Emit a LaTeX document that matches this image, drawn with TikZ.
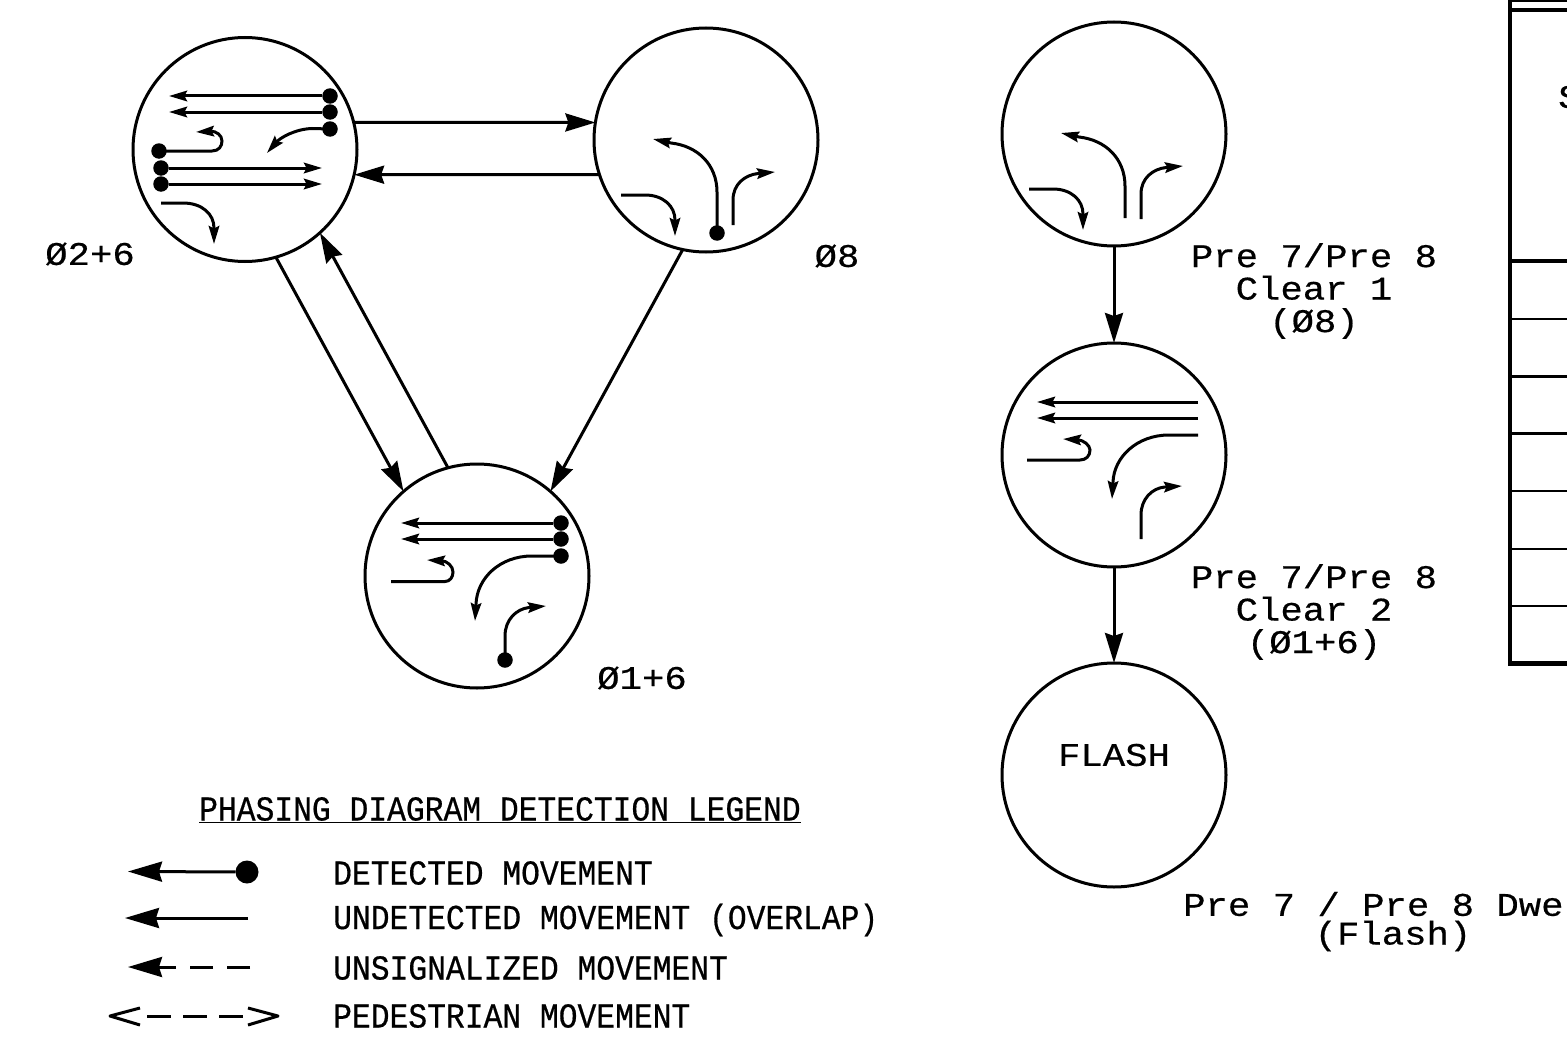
\documentclass[tikz,border=0pt]{standalone}
\usepackage{fontspec}
\usetikzlibrary{arrows.meta}
\newfontfamily\cadwide[FakeStretch=1.13,FakeBold=0.5]{Liberation Mono}
\newfontfamily\cadnarrow[FakeStretch=0.895,FakeBold=0.5]{Liberation Mono}
\tikzset{
  ln/.style={line width=3pt,line cap=butt},
  phase/.style={circle,draw,line width=3pt,minimum size=224pt,inner sep=0pt,outer sep=0pt},
  dot/.style={circle,fill=black,minimum size=15.5pt,inner sep=0pt,outer sep=0pt},
  bigdot/.style={circle,fill=black,minimum size=23pt,inner sep=0pt,outer sep=0pt},
  sa/.style={ln,-{Stealth[length=18pt,width=10.5pt,inset=2.5pt]}},
  ba/.style={ln,-{Stealth[length=30pt,width=18pt,inset=3pt]}},
  la/.style={ln,-{Stealth[length=34pt,width=20pt,inset=3pt]}},
  lab/.style={font=\cadwide\fontsize{33}{32.5}\selectfont,align=center,inner sep=0pt},
  leg/.style={font=\cadnarrow\fontsize{35}{35}\selectfont,anchor=west,inner sep=0pt},
  tbl/.style={line width=2.8pt},
  tblb/.style={line width=4.5pt}
}
\begin{document}
\begin{tikzpicture}[x=1pt,y=-1pt]
\useasboundingbox (0,0) rectangle (1567,1057);
% phase circles
\node[phase] (A) at (245,149.5) {};
\node[phase] (B) at (706,140) {};
\node[phase] (C) at (477,576) {};
\node[phase] (D) at (1114,134) {};
\node[phase] (E) at (1114,455) {};
\node[phase] (F) at (1114,775) {};
\node[lab] (flash) at (1114,755) {FLASH};
% connectors
\draw[ba] (A.14) -- (B.171.3);
\draw[ba] (B.198.7) -- (A.-13.7);
\draw[ba] (A.-74.4) -- (C.131.8);
\draw[ba] (C.105.3) -- (A.-48.4);
\draw[ba] (B.-102.8) -- (C.49.3);
\draw[ba] (D.south) -- (E.north);
\draw[ba] (E.south) -- (F.north);
% circle A movements
\node[dot] (a1) at (330,96) {};
\node[dot] (a2) at (330,112) {};
\node[dot] (a3) at (330,129) {};
\node[dot] (a4) at (159,151) {};
\node[dot] (a5) at (161,168) {};
\node[dot] (a6) at (161,184) {};
\coordinate (a1t) at (169,96);
\coordinate (a2t) at (169,112);
\coordinate (a3t) at (267,153);
\coordinate (a4t) at (196,132);
\coordinate (a5t) at (322,168);
\coordinate (a6t) at (322,184);
\coordinate (a7s) at (161,203);
\coordinate (a7t) at (214,244);
\draw[sa] (a1) -- (a1t);
\draw[sa] (a2) -- (a2t);
\draw[sa] (a3.center) -- (312,128.5) .. controls (295,129) and (280,138) .. (a3t);
\draw[sa] (a4.center) -- (212,151) .. controls (219,151) and (222,146) .. (222,141) .. controls (222,135) and (216,131) .. (a4t);
\draw[sa] (a5) -- (a5t);
\draw[sa] (a6) -- (a6t);
\draw[sa] (a7s) -- (183,203) .. controls (202,203) and (214,214) .. (214,228) -- (a7t);
% circle B movements
\node[dot] (b1) at (717,233) {};
\coordinate (b1t) at (653,139);
\coordinate (b2s) at (733,225);
\coordinate (b2t) at (775,172);
\coordinate (b3s) at (621,195);
\coordinate (b3t) at (675,236);
\draw[sa] (b1.center) -- (717,192) .. controls (717,165) and (698,146) .. (671,143) -- (b1t);
\draw[sa] (b2s) -- (733,200) .. controls (733,184) and (745,175) .. (758,173.5) -- (b2t);
\draw[sa] (b3s) -- (645,195) .. controls (663,195) and (675,206) .. (675,220) -- (b3t);
% circle C movements
\node[dot] (c1) at (561,523) {};
\node[dot] (c2) at (561,539) {};
\node[dot] (c3) at (561,556) {};
\node[dot] (c4) at (505,660) {};
\coordinate (c1t) at (401,523);
\coordinate (c2t) at (401,539);
\coordinate (c3t) at (475,621);
\coordinate (c4t) at (546,606);
\coordinate (c5s) at (391,581.5);
\coordinate (c5t) at (427,560);
\draw[sa] (c1) -- (c1t);
\draw[sa] (c2) -- (c2t);
\draw[sa] (c3.center) -- (532,556) .. controls (500,556) and (477,578) .. (476,604) -- (c3t);
\draw[sa] (c4.center) -- (505,636) .. controls (505,620) and (516,609) .. (529,607.5) -- (c4t);
\draw[sa] (c5s) -- (445,581.5) .. controls (450,581.5) and (453,577) .. (453,572) .. controls (453,566) and (447,561) .. (c5t);
% circle D movements
\coordinate (d1s) at (1125,218);
\coordinate (d1t) at (1061,133);
\coordinate (d2s) at (1141,219);
\coordinate (d2t) at (1183,166);
\coordinate (d3s) at (1029,189);
\coordinate (d3t) at (1083,230);
\draw[sa] (d1s) -- (1125,186) .. controls (1125,159) and (1106,140) .. (1079,137) -- (d1t);
\draw[sa] (d2s) -- (1141,194) .. controls (1141,178) and (1153,169) .. (1166,167.5) -- (d2t);
\draw[sa] (d3s) -- (1053,189) .. controls (1071,189) and (1083,200) .. (1083,214) -- (d3t);
% circle E movements
\coordinate (e1s) at (1198,402);
\coordinate (e1t) at (1037,402);
\coordinate (e2s) at (1198,418);
\coordinate (e2t) at (1037,418);
\coordinate (e3s) at (1198,435);
\coordinate (e3t) at (1112,499);
\coordinate (e4s) at (1141,539);
\coordinate (e4t) at (1182,486);
\coordinate (e5s) at (1027,460);
\coordinate (e5t) at (1063,439);
\draw[sa] (e1s) -- (e1t);
\draw[sa] (e2s) -- (e2t);
\draw[sa] (e3s) -- (1169,435) .. controls (1137,435) and (1114,457) .. (1113,482) -- (e3t);
\draw[sa] (e4s) -- (1141,515) .. controls (1141,499) and (1152,488) .. (1165,487) -- (e4t);
\draw[sa] (e5s) -- (1080,460) .. controls (1086,460) and (1090,456) .. (1090,450) .. controls (1090,445) and (1083,440) .. (e5t);
% phase labels
\node[lab] (l1) at (90,254) {Ø2+6};
\node[lab] (l2) at (837,256) {Ø8};
\node[lab] (l3) at (642,678) {Ø1+6};
\node[lab] (l4) at (1314,291) {Pre 7/Pre 8\\Clear 1\\(Ø8)};
\node[lab] (l5) at (1314,612) {Pre 7/Pre 8\\Clear 2\\(Ø1+6)};
\node[lab,anchor=west] (l6) at (1183,904) {Pre 7 / Pre 8 Dwe};
\node[lab] (l7) at (1393,936) {(Flash)};
% legend
\node[leg] (t0) at (199,810) {\underline{PHASING DIAGRAM DETECTION LEGEND}};
\node[leg] (t1) at (333,873) {DETECTED MOVEMENT};
\node[leg] (t2) at (333,920) {UNDETECTED MOVEMENT (OVERLAP)};
\node[leg] (t3) at (333,968) {UNSIGNALIZED MOVEMENT};
\node[leg] (t4) at (333,1016) {PEDESTRIAN MOVEMENT};
\node[bigdot] (m1) at (247,872) {};
\coordinate (m1t) at (128,871.5);
\coordinate (m2s) at (248,918);
\coordinate (m2t) at (125,918);
\coordinate (m3s) at (250,967);
\coordinate (m3t) at (128,967);
\coordinate (m3b) at (155,967);
\coordinate (m4a) at (140,1008);
\coordinate (m4b) at (110,1016);
\coordinate (m4c) at (140,1025);
\coordinate (m4d) at (248,1008);
\coordinate (m4e) at (278,1016);
\coordinate (m4f) at (248,1025);
\coordinate (m4g) at (147,1016);
\coordinate (m4h) at (243,1016);
\draw[la] (m1) -- (m1t);
\draw[la] (m2s) -- (m2t);
\draw[ln,dash pattern=on 23pt off 14pt] (m3s) -- (m3b);
\draw[la] (m3b) -- (m3t);
\draw[ln,line join=round] (m4a) -- (m4b) -- (m4c);
\draw[ln,line join=round] (m4d) -- (m4e) -- (m4f);
\draw[ln,dash pattern=on 24pt off 12pt] (m4g) -- (m4h);
% table fragment
\draw[tblb] (1510,0) -- (1510,665);
\draw[tbl] (1510,0.5) -- (1567,0.5);
\draw[tblb] (1510,9.8) -- (1567,9.8);
\draw[tblb] (1510,261) -- (1567,261);
\draw[tbl] (1510,319) -- (1567,319);
\draw[tbl] (1510,376.5) -- (1567,376.5);
\draw[tbl] (1510,433.5) -- (1567,433.5);
\draw[tbl] (1510,491) -- (1567,491);
\draw[tbl] (1510,549) -- (1567,549);
\draw[tbl] (1510,606) -- (1567,606);
\draw[tblb] (1508,663.5) -- (1567,663.5);
\node[lab,anchor=west] (s) at (1558,97) {S};
\end{tikzpicture}
\end{document}
